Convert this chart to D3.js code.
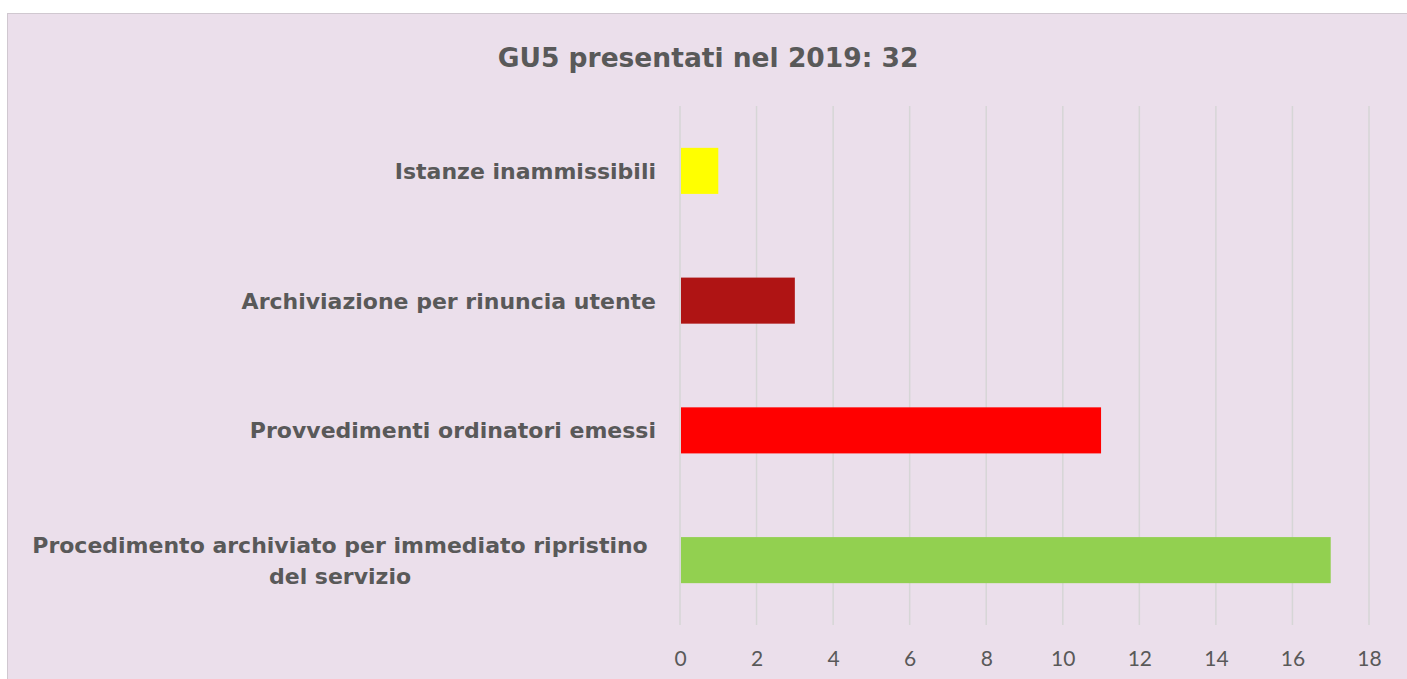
<!DOCTYPE html>
<html>
<head>
<meta charset="utf-8">
<script src="https://cdn.jsdelivr.net/npm/d3@7"></script>
<style>
  body { margin: 0; background: #fff; }
</style>
</head>
<body>
<div id="chart"></div>
<script>
const categories = [
  "Istanze inammissibili",
  "Archiviazione per rinuncia utente",
  "Provvedimenti ordinatori emessi",
  "Procedimento archiviato per immediato ripristino del servizio"
];
const values = [1, 3, 11, 17];
const barColors = ["#ffff00", "#af1414", "#ff0000", "#92d050"];
const xTicks = [0, 2, 4, 6, 8, 10, 12, 14, 16, 18];
const title = "GU5 presentati nel 2019: 32";

const width = 1407, height = 679;
const margin = { top: 106, right: 38, bottom: 54, left: 680 };
const innerW = width - margin.left - margin.right;
const innerH = height - margin.top - margin.bottom;
const boldFont = "'DejaVu Sans', sans-serif";
const tickFont = "Lato, 'Open Sans', sans-serif";

const svg = d3.select("#chart").append("svg")
  .attr("width", width).attr("height", height);

// chart area background
svg.append("rect").attr("x", 7.5).attr("y", 13.5)
  .attr("width", width).attr("height", height)
  .attr("fill", "#ebdfeb").attr("stroke", "#d0c8d0");

svg.append("text").attr("x", 708).attr("y", 67)
  .attr("text-anchor", "middle")
  .style("font-family", boldFont).style("font-size", "26.5px").style("font-weight", "bold")
  .attr("fill", "#595959").text(title);

const g = svg.append("g").attr("transform", `translate(${margin.left},${margin.top})`);

const x = d3.scaleLinear().domain([0, 18]).range([0, innerW]);
const y = d3.scaleBand().domain(categories).range([0, innerH]).paddingInner(0.645).paddingOuter(0.3225);

// grid
g.selectAll("line.grid").data(xTicks).join("line")
  .attr("class", "grid")
  .attr("x1", d => x(d)).attr("x2", d => x(d))
  .attr("y1", 0).attr("y2", innerH)
  .attr("stroke", "#d6d6d6").attr("stroke-width", 1.5);

// bars
g.selectAll("rect.bar").data(values).join("rect")
  .attr("class", "bar")
  .attr("x", x(0) + 1)
  .attr("y", (d, i) => y(categories[i]))
  .attr("width", d => x(d) - x(0) - 1)
  .attr("height", y.bandwidth())
  .attr("fill", (d, i) => barColors[i]);

// x axis
const xAxis = g.append("g").attr("transform", `translate(0,${innerH})`)
  .call(d3.axisBottom(x).tickValues(xTicks).tickSize(0).tickPadding(26));
xAxis.select(".domain").remove();
xAxis.selectAll("text")
  .style("font-family", tickFont).style("font-size", "21px")
  .attr("fill", "#595959");

// category labels (long one wraps onto two centred lines)
const labelLines = {
  "Procedimento archiviato per immediato ripristino del servizio":
    ["Procedimento archiviato per immediato ripristino", "del servizio"]
};
categories.forEach(c => {
  const lines = labelLines[c] || [c];
  const cy = y(c) + y.bandwidth() / 2;
  const lh = 31;
  const multi = lines.length > 1;
  const t = g.append("text")
    .attr("text-anchor", multi ? "middle" : "end")
    .style("font-family", boldFont).style("font-size", "22px").style("font-weight", "bold")
    .attr("fill", "#595959");
  lines.forEach((l, i) => {
    t.append("tspan")
      .attr("x", multi ? -340 : -24)
      .attr("y", cy + 8 + (i - (lines.length - 1) / 2) * lh)
      .text(l);
  });
});
</script>
</body>
</html>
